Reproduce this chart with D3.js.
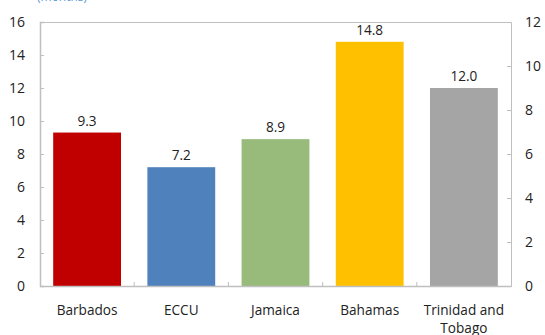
<!DOCTYPE html>
<html><head><meta charset="utf-8">
<script src="https://cdn.jsdelivr.net/npm/d3@7"></script>
<style>body{margin:0;background:#fff}svg{display:block}text{font-family:"Open Sans","Noto Sans",sans-serif}</style>
</head><body><svg id="c" width="545" height="335"></svg>
<script>
const categories = ["Barbados", "ECCU", "Jamaica", "Bahamas", "Trinidad and Tobago"];
const values = [9.3, 7.2, 8.9, 14.8, 12.0];
const colors = ["#c00000", "#4f81bd", "#98ba7a", "#ffc000", "#a5a5a5"];
const leftTicks = [0, 2, 4, 6, 8, 10, 12, 14, 16];
const rightTicks = [0, 2, 4, 6, 8, 10, 12];
const unitLabel = "(months)";

const svg = d3.select("#c");
const m = {l: 40, r: 511, t: 22, b: 286};
const x = d3.scaleBand().domain(categories).range([m.l, m.r]).paddingInner(0.28).paddingOuter(0.14);
const xb = d3.scaleBand().domain(categories).range([m.l, m.r]);
const y = d3.scaleLinear().domain([0, 16]).range([m.b, m.t]);
const y2 = d3.scaleLinear().domain([0, 12]).range([m.b, m.t]);
const grey = "#bfbfbf";

// bars
svg.selectAll("rect.bar").data(values).join("rect").attr("class", "bar")
  .attr("x", (d, i) => x(categories[i])).attr("width", x.bandwidth())
  .attr("y", d => y(d)).attr("height", d => y(0) - y(d))
  .attr("fill", (d, i) => colors[i]);

// frame top
svg.append("line").attr("x1", m.l).attr("x2", m.r).attr("y1", m.t + 0.5).attr("y2", m.t + 0.5).attr("stroke", grey);

// left axis
const gl = svg.append("g").attr("transform", `translate(${m.l},0)`)
  .call(d3.axisRight(y).tickValues(leftTicks).tickSize(4).tickFormat(""));
gl.select(".domain").attr("stroke", grey).attr("stroke-width", 1.5);
gl.selectAll(".tick line").attr("stroke", grey);
svg.selectAll("text.ly").data(leftTicks).join("text").attr("class", "ly")
  .attr("x", 25).attr("y", d => y(d)).attr("dy", "0.35em").attr("text-anchor", "end")
  .attr("font-size", 14).attr("fill", "#222").text(d => d);

// right axis
const gr = svg.append("g").attr("transform", `translate(${m.r},0)`)
  .call(d3.axisLeft(y2).tickValues(rightTicks).tickSize(4).tickFormat(""));
gr.select(".domain").attr("stroke", grey);
gr.selectAll(".tick line").attr("stroke", grey);
svg.selectAll("text.ry").data(rightTicks).join("text").attr("class", "ry")
  .attr("x", 525).attr("y", d => y2(d)).attr("dy", "0.35em").attr("text-anchor", "start")
  .attr("font-size", 14).attr("fill", "#222").text(d => d);

// bottom axis
const gb = svg.append("g").attr("transform", `translate(0,${m.b})`)
  .call(d3.axisTop(xb).tickSize(0).tickFormat(""));
gb.select(".domain").attr("stroke", grey).attr("stroke-width", 1.5);
gb.selectAll(".tick").remove();
const bounds = categories.slice(1).map(c => xb(c));
svg.selectAll("line.bt").data(bounds).join("line").attr("class", "bt")
  .attr("x1", d => d).attr("x2", d => d).attr("y1", m.b).attr("y2", m.b - 4).attr("stroke", grey);

// category labels
const cl = svg.selectAll("text.cl").data(categories).join("text").attr("class", "cl")
  .attr("text-anchor", "middle").attr("font-size", 13.6).attr("fill", "#222")
  .attr("x", d => xb(d) + xb.bandwidth() / 2).attr("y", 315);
cl.each(function(d) {
  const t = d3.select(this);
  const parts = d === "Trinidad and Tobago" ? ["Trinidad and", "Tobago"] : [d];
  parts.forEach((p, i) => t.append("tspan").attr("x", xb(d) + xb.bandwidth() / 2).attr("dy", i ? 18 : 0).text(p));
});

// value labels
svg.selectAll("text.vl").data(values).join("text").attr("class", "vl")
  .attr("x", (d, i) => x(categories[i]) + x.bandwidth() / 2).attr("y", d => y(d) - 7)
  .attr("text-anchor", "middle").attr("font-size", 13.6).attr("fill", "#222").text(d => d.toFixed(1));

// unit label (cut off at top, as in the reference)
svg.append("text").attr("x", 37).attr("y", 1).attr("font-size", 12).attr("fill", "#5b9bd5").text(unitLabel);
</script></body></html>
